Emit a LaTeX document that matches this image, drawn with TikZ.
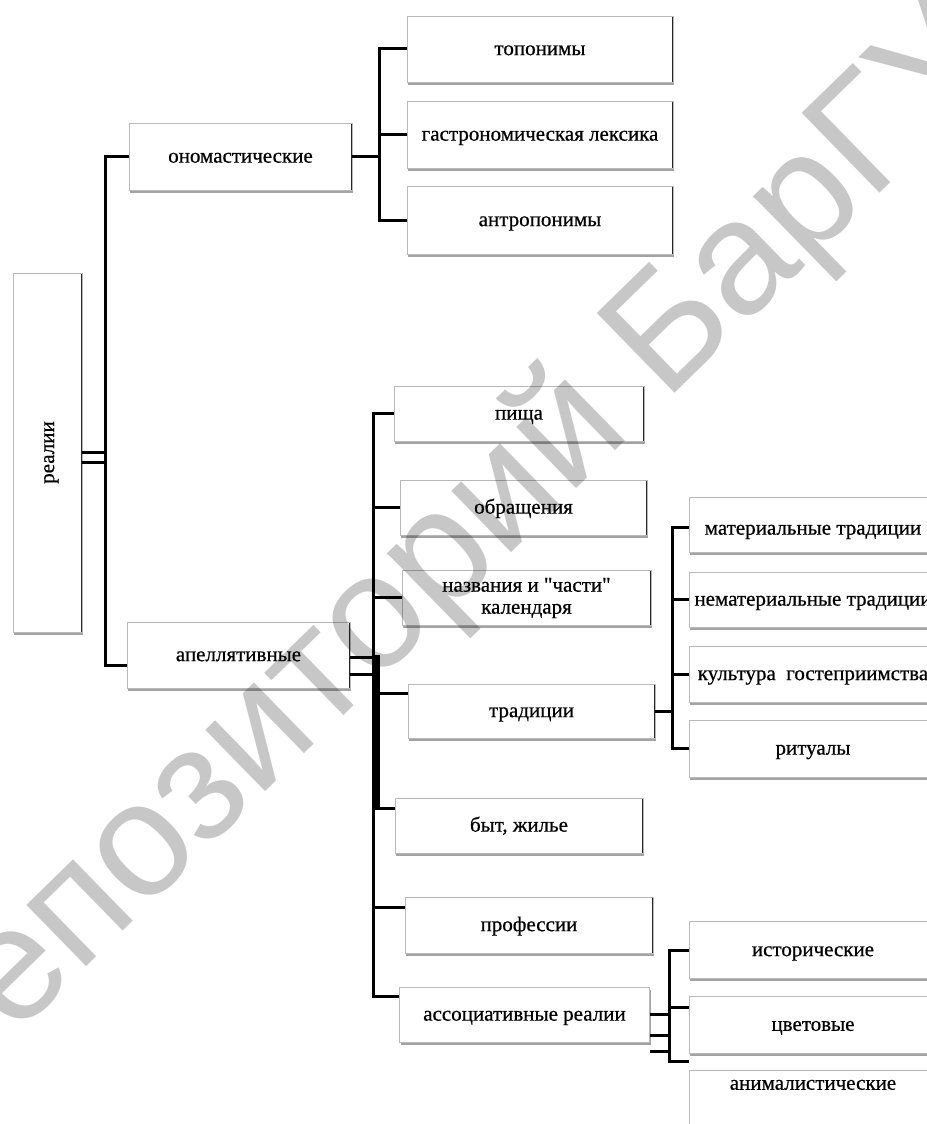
\documentclass[tikz,border=0pt]{standalone}
\usepackage{fontspec}
\usepackage{graphicx}
\setmainfont{Liberation Serif}
\newfontfamily\lblfont{Liberation Serif}[FakeBold=0.6]
\newfontfamily\wmfont{Liberation Sans}
\usetikzlibrary{shadows}
\begin{document}
\begin{tikzpicture}[x=1pt,y=-1pt,
  boxbase/.style={rectangle, draw=gray!55, line width=0.7pt, fill=white, inner sep=0pt, align=center,
    font=\lblfont\fontsize{21}{22}\selectfont,
    drop shadow={shadow xshift=1pt, shadow yshift=-3pt, fill=gray!80, opacity=0.9},
    path picture={\draw[black!85, line width=1.6pt] (path picture bounding box.north east) -- (path picture bounding box.south east);}},
  box/.style={boxbase, text height=17pt, text depth=4.7pt},
  lbl/.style={font=\lblfont\fontsize{21}{22}\selectfont, inner sep=0pt},
  conn/.style={line width=3pt, draw=black}]
\useasboundingbox (0,0) rectangle (926,1124);
\fill[white] (0,0) rectangle (926,1124);

% boxes
\node[boxbase, minimum width=69pt, minimum height=359pt] (realii) at (47.5,452.5) {\rotatebox{90}{\raisebox{-4pt}[9.6pt][4.5pt]{реалии}}};
\node[box, minimum width=223pt, minimum height=67pt] (onom) at (240.5,156.5) {ономастические};
\node[box, minimum width=266pt, minimum height=66pt] (topon) at (540,49) {топонимы};
\node[box, minimum width=266pt, minimum height=67pt] (gastro) at (540,134.5) {гастрономическая лексика};
\node[box, minimum width=266pt, minimum height=68pt] (antro) at (540,220) {антропонимы};
\node[box, minimum width=223pt, minimum height=66pt] (apell) at (238.5,655) {апеллятивные};
\node[box, minimum width=250pt, minimum height=55pt] (pishcha) at (519,413.5) {пища};
\node[box, minimum width=247pt, minimum height=55pt] (obrash) at (523.5,507.5) {обращения};
\node[boxbase, text height=37.1pt, text depth=4.7pt, minimum width=249pt, minimum height=55pt] (nazv) at (526.5,597.5) {названия и "части"\\календаря};
\node[box, minimum width=247pt, minimum height=54pt] (trad) at (531.5,711) {традиции};
\node[box, minimum width=248pt, minimum height=55pt] (byt) at (519,825.5) {быт, жилье};
\node[box, minimum width=248pt, minimum height=56pt] (prof) at (529,925) {профессии};
\node[box, minimum width=250pt, minimum height=55pt] (assoc) at (524.5,1014.5) {ассоциативные реалии};
\node[box, text height=25pt, minimum width=248pt, minimum height=55pt] (mat) at (813,524.5) {материальные традиции};
\node[box, minimum width=248pt, minimum height=55pt] (nemat) at (813,599.5) {нематериальные традиции};
\node[box, minimum width=248pt, minimum height=56pt] (kult) at (813,674) {культура\ \ гостеприимства};
\node[box, minimum width=248pt, minimum height=57pt] (rit) at (813,748.5) {ритуалы};
\node[box, minimum width=248pt, minimum height=56.6pt] (istor) at (813,950) {исторические};
\node[box, minimum width=248pt, minimum height=57pt] (cvet) at (813,1024.7) {цветовые};
\node[box, minimum width=248pt, minimum height=70pt, label={[lbl, yshift=-10pt, anchor=north]north:анималистические}] (animal) at (813,1105) {};

% left tree
\draw[conn] (realii.east) -- ++(23,0);
\draw[conn] ([yshift=-10pt]realii.east) -- ++(23,0);
\draw[conn] (onom.west) -- ++(-23,0) |- ([yshift=-10pt]apell.west);

% onomastic branch
\draw[conn] (onom.east) -- ++(27,0) coordinate (oJ);
\draw[conn] (topon.west) -| (oJ |- antro.west) -- (antro.west);
\draw[conn] (gastro.west) -- (gastro.west -| oJ);

% appellative branch
\draw[conn] ([yshift=-2pt]apell.east) -- ++(25,0);
\draw[conn] ([yshift=-19pt]apell.east) -- ++(25,0);
\coordinate (aJ) at (373.5,0);
\coordinate (asIn) at ([yshift=18.5pt]assoc.west);
\coordinate (trIn) at ([yshift=18pt]trad.west);
\coordinate (bytIn) at ([yshift=17.5pt]byt.west);
\coordinate (profIn) at ([yshift=18pt]prof.west);
\draw[conn] (pishcha.west) -| (aJ |- asIn) -- (asIn);
\draw[conn] (obrash.west) -- (obrash.west -| aJ);
\draw[conn] (nazv.west) -- (nazv.west -| aJ);
\draw[conn] (trIn) -- (trIn -| aJ);
\draw[conn] (bytIn) -- (bytIn -| aJ);
\draw[conn] (profIn) -- (profIn -| aJ);
\fill[black] (372,655) rectangle (379.5,807);

% traditions branch
\draw[conn] (trad.east) -- ++(17,0) coordinate (tJ);
\coordinate (matIn) at ([yshift=-2.5pt]mat.west);
\draw[conn] (matIn) -| (tJ |- rit.west) -- (rit.west);
\draw[conn] (nemat.west) -- (nemat.west -| tJ);
\draw[conn] (kult.west) -- (kult.west -| tJ);

% associative branch
\draw[conn] (assoc.east) -- ++(20,0);
\draw[conn] ([yshift=-20.5pt]assoc.east) -- ++(20,0);
\draw[conn] ([yshift=-37.2pt]assoc.east) -- ++(20,0) coordinate (sJ);
\coordinate (anIn) at ([yshift=43.3pt]animal.west);
\coordinate (cvIn) at ([yshift=17pt]cvet.west);
\draw[conn] (istor.west) -| (sJ |- anIn) -- (anIn);
\draw[conn] (cvIn) -- (cvIn -| sJ);

% watermark
\node[font=\wmfont\fontsize{162}{162}\selectfont, text=black, text opacity=0.22, rotate=44.3, anchor=base west, inner sep=0pt] (wm) at (-58,1108) {Репозиторий БарГУ};
\end{tikzpicture}
\end{document}
